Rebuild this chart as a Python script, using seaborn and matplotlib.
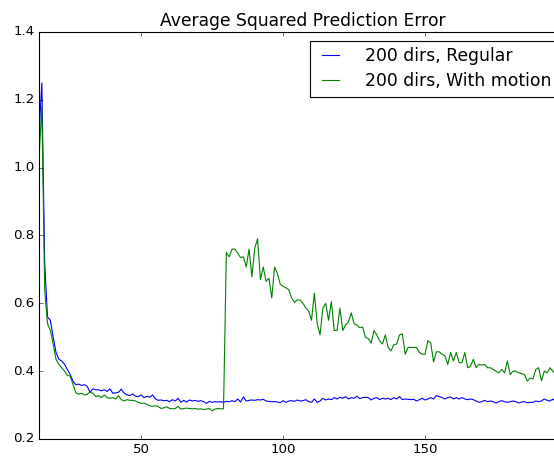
import numpy as np
import pandas as pd
import seaborn as sns
import matplotlib
matplotlib.use("Agg")
import matplotlib.pyplot as plt

# iterations shown in the chart
x_start = 14
x_end = 196

# error per iteration
regular = [
    1.10, 1.25, 0.72, 0.56, 0.55, 0.50, 0.455, 0.435, 0.43, 0.42,      # 14-23
    0.405, 0.39, 0.37, 0.36, 0.362, 0.358, 0.36, 0.355, 0.338, 0.348,  # 24-33
    0.345, 0.345, 0.342, 0.345, 0.34, 0.348, 0.335, 0.336, 0.338, 0.347,  # 34-43
    0.335, 0.33, 0.328, 0.333, 0.326, 0.325, 0.33, 0.322, 0.326, 0.323,   # 44-53
    0.33, 0.318, 0.314, 0.315, 0.313, 0.314, 0.31, 0.316, 0.312, 0.32,    # 54-63
    0.308, 0.314, 0.309, 0.315, 0.312, 0.314, 0.311, 0.313, 0.31, 0.305,  # 64-73
    0.311, 0.308, 0.31, 0.309, 0.31, 0.308, 0.311, 0.31, 0.313, 0.31,     # 74-83
    0.318, 0.309, 0.324, 0.312, 0.314, 0.315, 0.314, 0.316, 0.315, 0.317, # 84-93
    0.312, 0.311, 0.31, 0.31, 0.309, 0.307, 0.313, 0.308, 0.312, 0.313,   # 94-103
    0.311, 0.315, 0.312, 0.313, 0.316, 0.31, 0.308, 0.318, 0.308, 0.312,  # 104-113
    0.32, 0.315, 0.318, 0.316, 0.322, 0.318, 0.323, 0.32, 0.325, 0.318,   # 114-123
    0.322, 0.32, 0.326, 0.319, 0.322, 0.323, 0.322, 0.315, 0.32, 0.322,   # 124-133
    0.316, 0.32, 0.318, 0.32, 0.316, 0.322, 0.318, 0.325, 0.316, 0.318,   # 134-143
    0.317, 0.316, 0.317, 0.312, 0.316, 0.32, 0.315, 0.318, 0.322, 0.318,  # 144-153
    0.328, 0.325, 0.322, 0.318, 0.322, 0.324, 0.318, 0.322, 0.318, 0.322, # 154-163
    0.318, 0.316, 0.318, 0.316, 0.312, 0.308, 0.31, 0.314, 0.31, 0.312,   # 164-173
    0.31, 0.306, 0.31, 0.313, 0.31, 0.308, 0.31, 0.312, 0.31, 0.306,      # 174-183
    0.309, 0.31, 0.307, 0.308, 0.308, 0.312, 0.31, 0.312, 0.318, 0.314,   # 184-193
    0.312, 0.318, 0.31,                                                   # 194-196
]

with_motion = [
    1.03, 1.18, 0.64, 0.54, 0.52, 0.48, 0.435, 0.42, 0.41, 0.40,        # 14-23
    0.388, 0.385, 0.36, 0.336, 0.332, 0.335, 0.33, 0.332, 0.338, 0.335,  # 24-33
    0.325, 0.328, 0.322, 0.33, 0.322, 0.32, 0.322, 0.318, 0.328, 0.316,  # 34-43
    0.312, 0.316, 0.314, 0.314, 0.312, 0.308, 0.305, 0.306, 0.302, 0.298,  # 44-53
    0.296, 0.298, 0.296, 0.29, 0.292, 0.295, 0.29, 0.289, 0.29, 0.296,   # 54-63
    0.288, 0.29, 0.291, 0.29, 0.289, 0.29, 0.288, 0.289, 0.287, 0.288,   # 64-73
    0.29, 0.283, 0.288, 0.29, 0.289, 0.289, 0.75, 0.737, 0.76, 0.76,     # 74-83
    0.748, 0.735, 0.737, 0.707, 0.76, 0.678, 0.763, 0.79, 0.67, 0.707,   # 84-93
    0.665, 0.674, 0.616, 0.707, 0.688, 0.656, 0.65, 0.646, 0.64, 0.616,  # 94-103
    0.603, 0.61, 0.61, 0.60, 0.586, 0.577, 0.55, 0.63, 0.54, 0.507,      # 104-113
    0.586, 0.60, 0.55, 0.605, 0.52, 0.52, 0.586, 0.52, 0.536, 0.545,     # 114-123
    0.572, 0.54, 0.536, 0.528, 0.53, 0.50, 0.496, 0.483, 0.52, 0.507,    # 124-133
    0.49, 0.48, 0.507, 0.47, 0.46, 0.478, 0.48, 0.507, 0.51, 0.45,       # 134-143
    0.47, 0.47, 0.47, 0.47, 0.455, 0.45, 0.45, 0.49, 0.483, 0.427,       # 144-153
    0.457, 0.457, 0.45, 0.445, 0.42, 0.455, 0.43, 0.455, 0.425, 0.425,   # 154-163
    0.455, 0.41, 0.415, 0.435, 0.41, 0.42, 0.418, 0.42, 0.41, 0.41,      # 164-173
    0.405, 0.40, 0.395, 0.405, 0.395, 0.43, 0.39, 0.40, 0.40, 0.395,     # 174-183
    0.393, 0.39, 0.371, 0.38, 0.377, 0.405, 0.41, 0.372, 0.40, 0.395,    # 184-193
    0.41, 0.40, 0.39,                                                    # 194-196
]

iters = list(range(x_start, x_end + 1))

plt.style.use("classic")

fig = plt.figure(figsize=(554 / 80, 459 / 80), dpi=80, facecolor="white")
# axes run past the right edge, like the cropped original
ax = fig.add_axes([39 / 554, 20 / 459, 528 / 554, 407 / 459])

sns.lineplot(x=iters, y=regular, color="b", lw=1, label="200 dirs, Regular", ax=ax)
sns.lineplot(x=iters, y=with_motion, color="g", lw=1, label="200 dirs, With motion", ax=ax)

ax.set_xlim(14, 200)
ax.set_ylim(0.2, 1.4)
ax.set_xticks([50, 100, 150])
ax.set_yticks([0.2, 0.4, 0.6, 0.8, 1.0, 1.2, 1.4])
ax.set_title("Average Squared Prediction Error", fontsize=15.4)
ax.legend(loc="upper right", fontsize=15.5, handlelength=1.6,
          handletextpad=1.2, labelspacing=0.4)

fig.savefig("out.png", dpi=80, facecolor="white")
